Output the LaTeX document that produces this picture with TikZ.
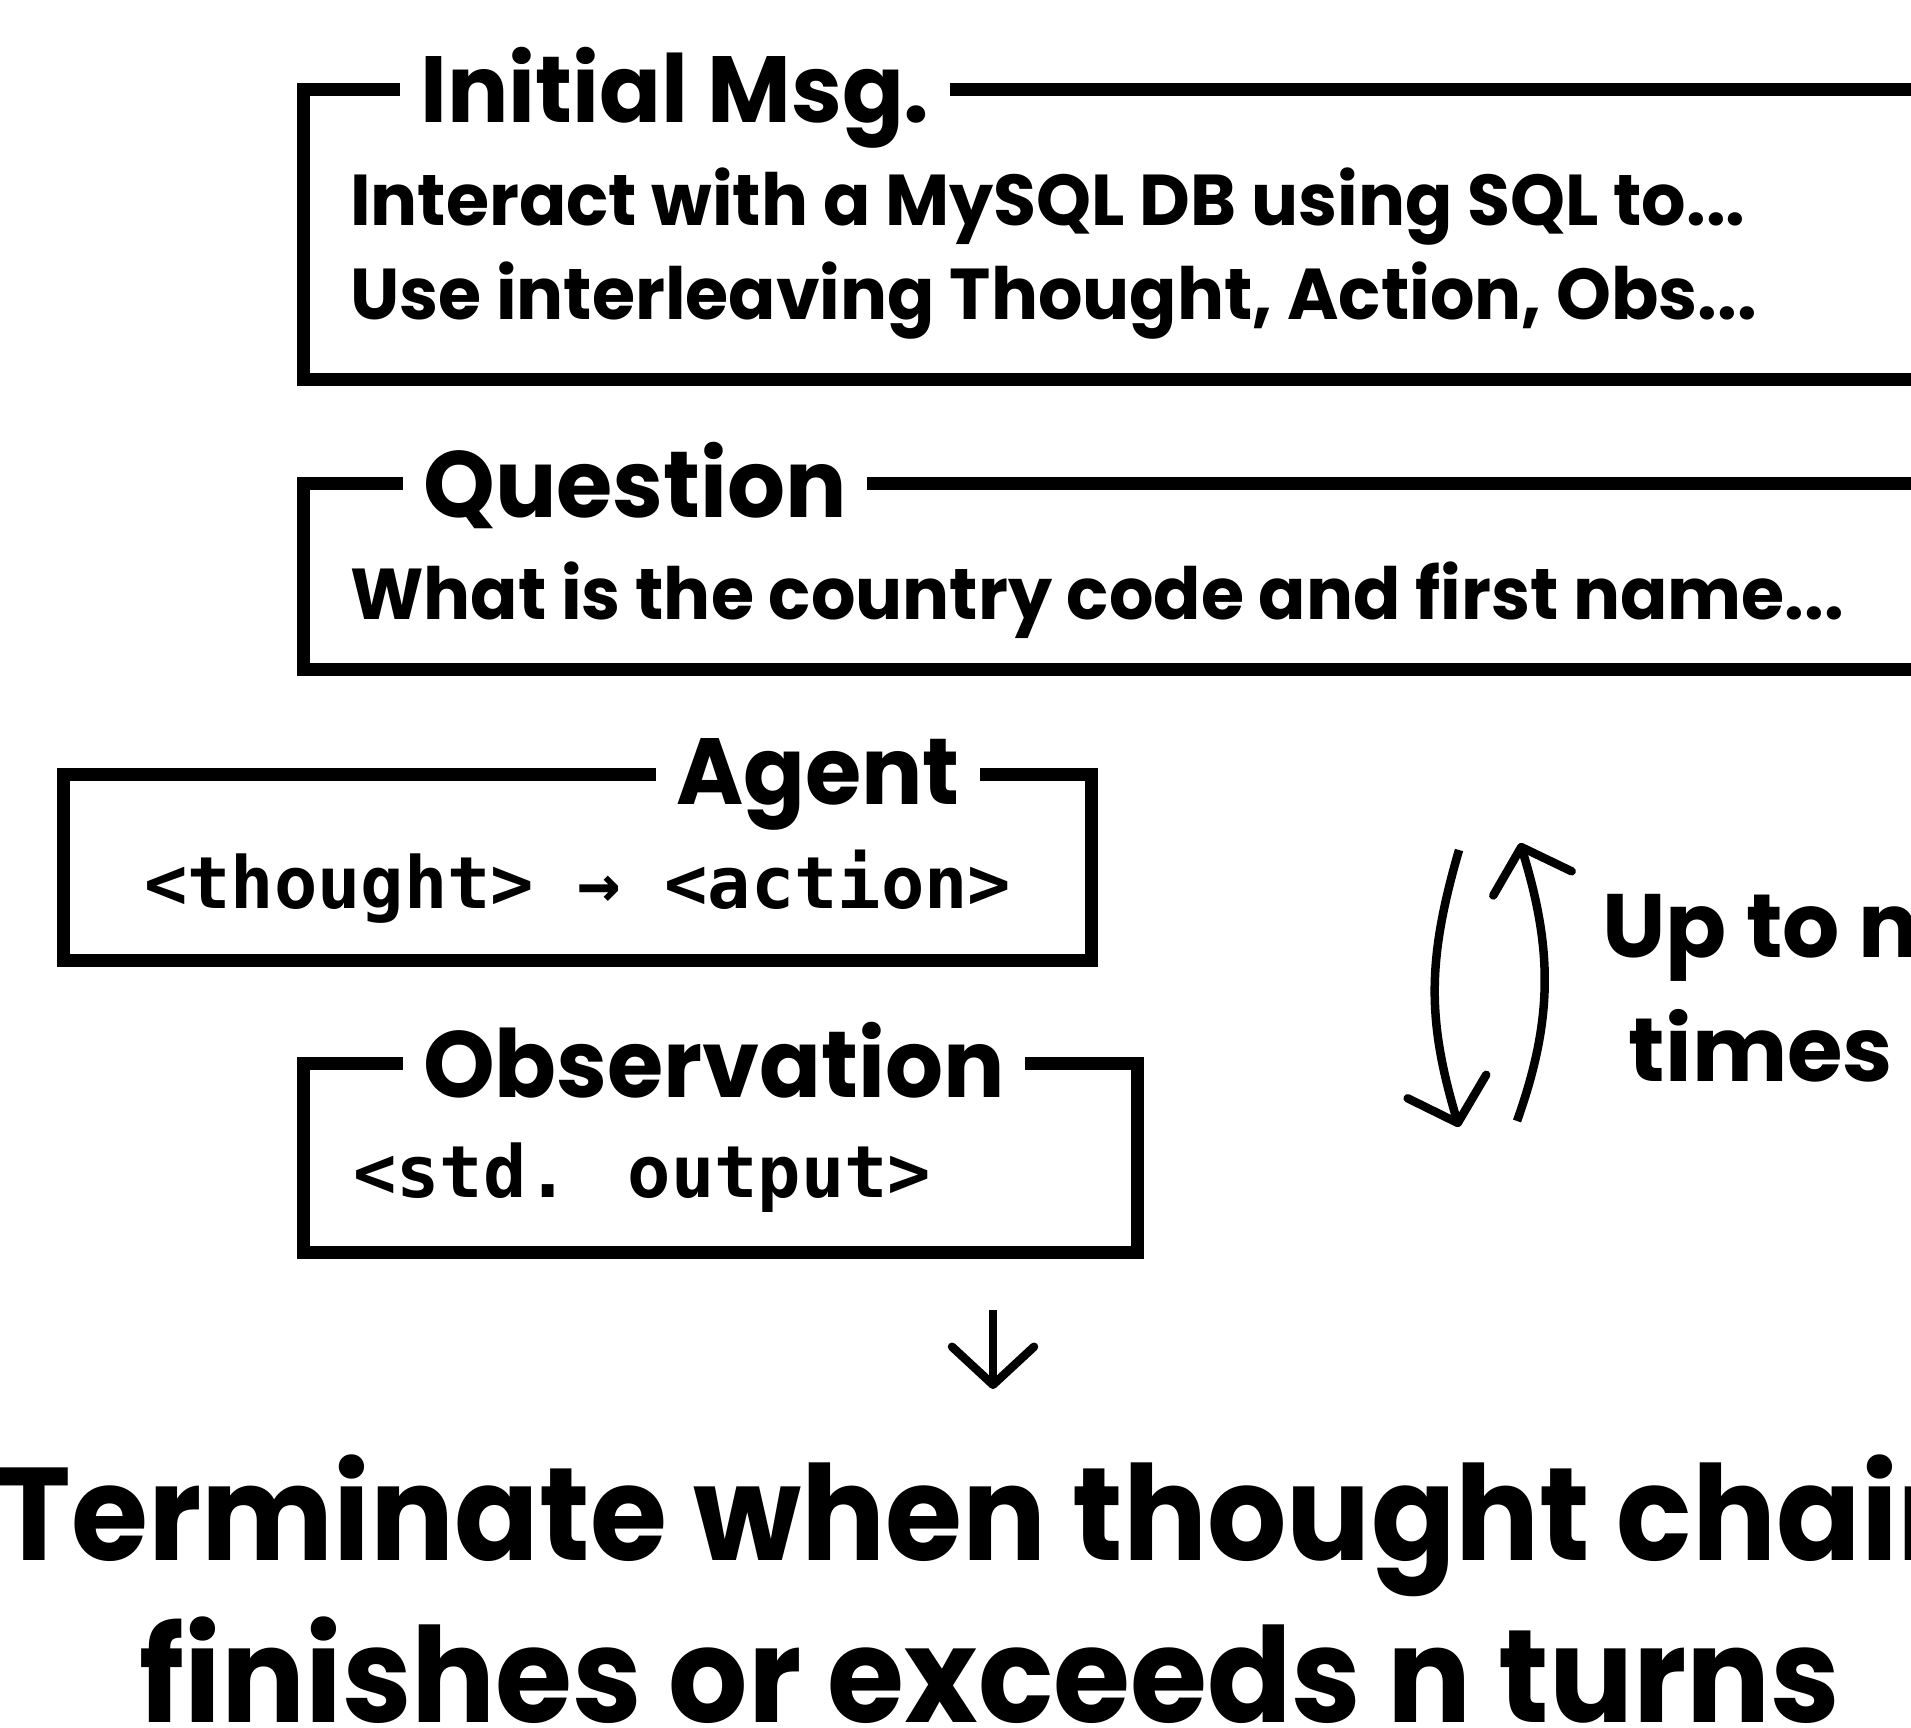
\documentclass[tikz,border=0pt]{standalone}
\usepackage{fontspec}
\usetikzlibrary{arrows.meta}
\newfontfamily\mainf{Poppins}[FakeStretch=0.97]
\newfontfamily\loopf{Poppins}
\newfontfamily\bigf{Poppins}[FakeStretch=0.945]
\newfontfamily\monof{DejaVu Sans Mono}
\begin{document}
\begin{tikzpicture}[x=1pt,y=-1pt,
  frame/.style={draw,line width=13pt,anchor=north west,inner sep=0pt,outer sep=0pt},
  ttl/.style={fill=white,inner xsep=20pt,inner ysep=0pt,anchor=base west,
    font=\mainf\bfseries\fontsize{94}{110}\selectfont},
  body/.style={inner sep=0pt,anchor=base west,font=\mainf\bfseries\fontsize{72}{80}\selectfont},
  mono/.style={inner sep=0pt,anchor=base west,font=\monof\bfseries\fontsize{72}{80}\selectfont},
  big/.style={inner sep=0pt,anchor=base,font=\bigf\bfseries\fontsize{132}{150}\selectfont},
  loop/.style={inner sep=0pt,anchor=base,font=\loopf\bfseries\fontsize{90}{100}\selectfont},
  arr/.style={line width=8.5pt,-{Straight Barb[length=38pt,width=82pt,round]}}
]
\useasboundingbox (0,0) rectangle (1911,1727);
\clip (0,0) rectangle (1911,1727);

% Initial Msg
\node[frame,minimum width=1800pt,minimum height=290pt] (imbox) at (303,89) {};
\node[ttl] (imt) at (400,122) {Initial Msg.};
\node[body] (im1) at (350,225) {Interact with a MySQL DB using SQL to...};
\node[body] (im2) at (350,319) {Use interleaving Thought, Action, Obs...};

% Question
\node[frame,minimum width=1800pt,minimum height=186pt] (qbox) at (303,483) {};
\node[ttl] (qt) at (403,517) {Question};
\node[body] (q1) at (350,619) {What is the country code and first name...};

% Agent
\node[frame,minimum width=1028pt,minimum height=186pt] (abox) at (63,774) {};
\node[ttl] (at) at (656,804) {Agent};
\node[mono] (a1) at (144,908) {<thought> → <action>};

% Observation
\node[frame,minimum width=834pt,minimum height=189pt] (obox) at (303,1063) {};
\node[ttl] (ot) at (403,1097) {Observation};
\node[mono] (o1) at (353,1197) {<std. output>};

% down arrow
\coordinate (d1) at (993,1310);
\coordinate (d2) at (993,1389);
\draw[arr] (d1) -- (d2);

% loop arrows
\coordinate (l1) at (1459,850);
\coordinate (l2) at (1459,1127);
\coordinate (r1) at (1517,1121);
\coordinate (r2) at (1520,843);
\draw[arr] (l1) .. controls (1427,960) and (1427,1020) .. (l2);
\draw[arr] (r1) .. controls (1553,1020) and (1553,950) .. (r2);

\node[loop] (up) at (1761,957) {Up to n};
\node[loop] (tm) at (1761,1081) {times};

% bottom
\node[big] (b1) at (990,1560) {Terminate when thought chain};
\node[big] (b2) at (990,1722) {finishes or exceeds n turns};
\end{tikzpicture}
\end{document}
